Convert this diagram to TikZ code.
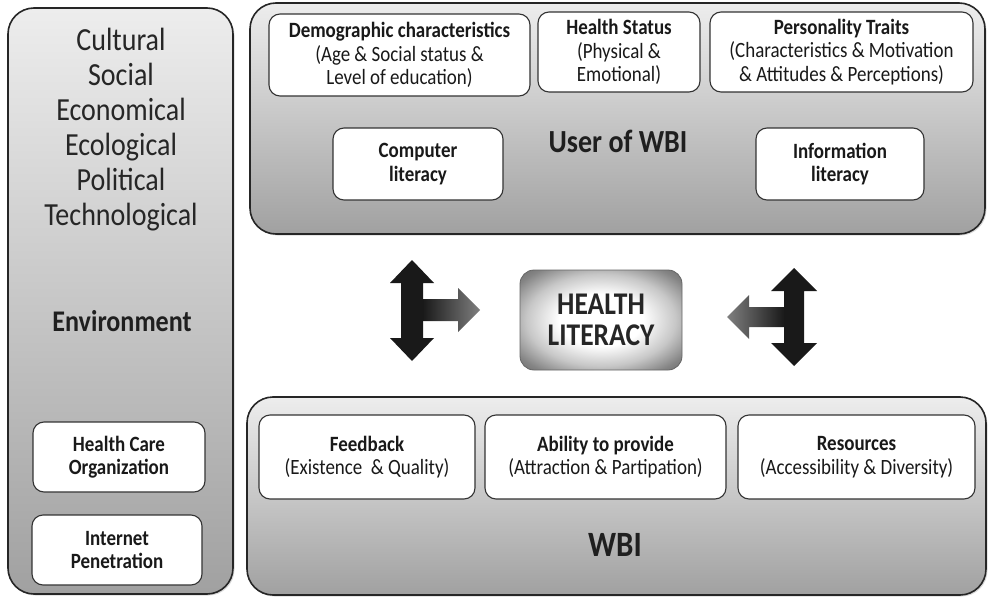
\documentclass[tikz,border=0pt]{standalone}
\usepackage{fontspec}
\setmainfont{Carlito}[FakeStretch=0.87]
\usetikzlibrary{shadows}

% brushed-metal look for the central button
\pgfdeclareradialshading{metal}{\pgfpoint{0bp}{0bp}}{%
  color(0bp)=(white); color(13bp)=(white); color(23bp)=(black!22);
  color(31bp)=(black!48); color(39bp)=(black!64); color(72bp)=(black!75)}

\begin{document}
\begin{tikzpicture}[x=1pt, y=-1pt,
  panel/.style={draw=black!85, line width=1.6pt, rounded corners=26pt,
    top color=black!7, bottom color=black!37, inner sep=0pt,
    drop shadow={opacity=0.3, shadow xshift=1.5pt, shadow yshift=-1.5pt}},
  item/.style={draw=black!80, line width=1.1pt, rounded corners=11pt, fill=white,
    align=center, inner sep=0pt, text=black!90,
    font=\fontsize{21.8}{23.5}\selectfont},
  title/.style={font=\fontsize{#1}{#1}\selectfont\bfseries, text=black!88},
  bigarrow/.style={fill=black!90, draw=none},
]
  \useasboundingbox (0,0) rectangle (991,602);

  % the three big panels
  \node[panel, minimum width=225pt, minimum height=586pt] (env) at (120.5,301) {};
  \node[panel, minimum width=735pt, minimum height=231pt] (user) at (617.5,118.5) {};
  \node[panel, minimum width=739pt, minimum height=198pt] (wbi) at (616.5,496) {};

  % environment panel
  \node[align=center, text=black!85, font=\fontsize{32.2}{35}\selectfont] (factors) at (121,130)
    {Cultural\\Social\\Economical\\Ecological\\Political\\Technological};
  \node[title=30] (envlabel) at (122,321) {Environment};
  \node[item, minimum width=172pt, minimum height=70pt] (hco) at (119,457)
    {\textbf{Health Care}\\\textbf{Organization}};
  \node[item, minimum width=170pt, minimum height=70pt] (inet) at (117,550)
    {\textbf{Internet}\\\textbf{Penetration}};

  % user of WBI panel
  \node[item, minimum width=261pt, minimum height=82pt] (demo) at (399.5,55)
    {\textbf{Demographic characteristics}\\(Age \& Social status \&\\Level of education)};
  \node[item, minimum width=162pt, minimum height=80pt] (status) at (619,52)
    {\textbf{Health Status}\\(Physical \&\\Emotional)};
  \node[item, minimum width=263pt, minimum height=80pt] (traits) at (841.5,52)
    {\textbf{Personality Traits}\\(Characteristics \& Motivation\\\& Attitudes \& Perceptions)};
  \node[item, minimum width=170pt, minimum height=72pt] (complit) at (418,164)
    {\textbf{Computer}\\\textbf{literacy}};
  \node[item, minimum width=168pt, minimum height=72pt] (infolit) at (840,164)
    {\textbf{Information}\\\textbf{literacy}};
  \node[title=32.2] (userlabel) at (618,141) {User of WBI};

  % WBI panel
  \node[item, minimum width=216pt, minimum height=84pt] (feedback) at (367,457)
    {\textbf{Feedback}\\(Existence~ \& Quality)};
  \node[item, minimum width=241pt, minimum height=84pt] (ability) at (605.5,457)
    {\textbf{Ability to provide}\\(Attraction \& Partipation)};
  \node[item, minimum width=237pt, minimum height=84pt] (resources) at (856.5,457)
    {\textbf{Resources}\\(Accessibility \& Diversity)};
  \node[title=35.6] (wbilabel) at (615,545) {WBI};

  % health literacy button
  \node[draw=black!60, line width=0.8pt, rounded corners=14pt, shading=metal,
    minimum width=162pt, minimum height=100pt, align=center,
    font=\fontsize{31.6}{31}\selectfont\bfseries, text=black!85] (hl) at (601,320)
    {HEALTH\\LITERACY};

  % left arrow: up/down plus a branch to the button
  \path[left color=black!92, right color=black!50]
    (420,299) -- (458,299) -- (458,288) -- (480,310) -- (458,332) -- (458,321) -- (420,321) -- cycle;
  \path[bigarrow] (412,260) -- (434,283) -- (423,283) -- (423,338) -- (434,338) -- (412,361)
    -- (390,338) -- (401,338) -- (401,283) -- (390,283) -- cycle;

  % right arrow
  \path[left color=black!50, right color=black!92]
    (787,307) -- (749,307) -- (749,295) -- (727,317) -- (749,339) -- (749,327) -- (787,327) -- cycle;
  \path[bigarrow] (794,268) -- (817,291) -- (804,291) -- (804,343) -- (817,343) -- (794,366)
    -- (771,343) -- (784,343) -- (784,291) -- (771,291) -- cycle;
\end{tikzpicture}
\end{document}
